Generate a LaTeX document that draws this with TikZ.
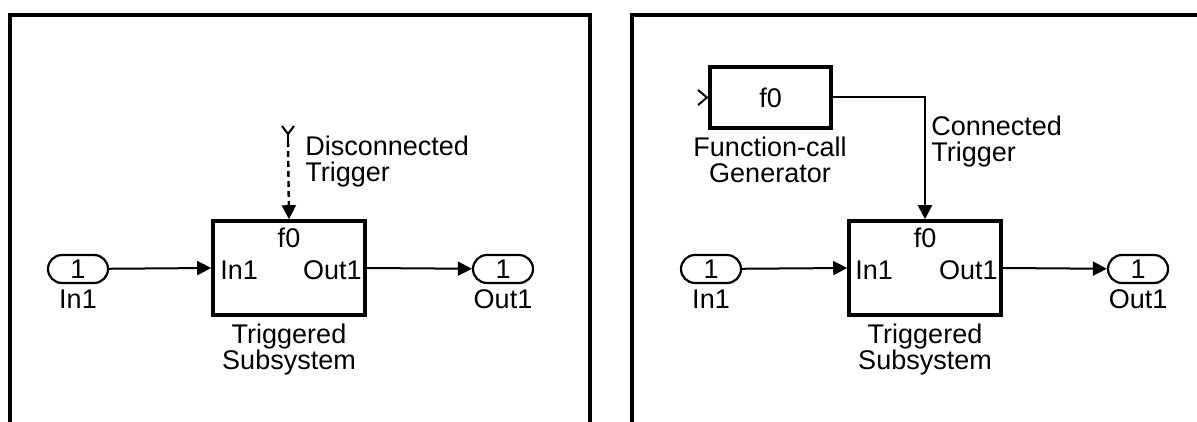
\documentclass[tikz,border=0pt]{standalone}
\usepackage{fontspec}
\setmainfont{Liberation Sans}
\usetikzlibrary{arrows.meta}
\begin{document}
\begin{tikzpicture}[x=0.5pt,y=-0.5pt,
  font=\fontsize{13.5}{13}\selectfont,
  port/.style={draw, line width=1.1pt, rounded corners=7pt, minimum width=30pt, minimum height=14pt, inner sep=0pt},
  blk/.style={draw, line width=1.8pt, inner sep=0pt},
  wire/.style={line width=1pt, -{Triangle[length=7pt,width=7pt]}},
  plain/.style={line width=1pt},
  panel/.style={line width=2.2pt},
  lbl/.style={inner sep=0pt, align=center}]
\useasboundingbox (0,0) rectangle (1197,422);
% ---------- left panel ----------
\draw[panel] (10,430) -- (10,15) -- (590,15) -- (590,430);
\node[port] (in1L) at (78,269) {1};
\node[lbl] (in1Llab) at (78,299) {In1};
\node[port] (out1L) at (503,269) {1};
\node[lbl] (out1Llab) at (503,299) {Out1};
\node[blk, minimum width=76pt, minimum height=47pt] (subL) at (289,268) {};
\node[lbl] (subLf0) at (289,238) {f0};
\node[lbl, anchor=west] (subLin) at (220,270) {In1};
\node[lbl, anchor=east] (subLout) at (362,270) {Out1};
\node[lbl] (subLlab) at (289,350) {Triggered\\Subsystem};
\coordinate (trigL) at (288,141);
\draw[plain] (282,126) -- (trigL |- 0,134) -- (294,126);
\draw[plain] (trigL |- 0,134) -- (trigL);
\draw[wire, line width=1.2pt, dash pattern=on 3pt off 2pt] (trigL) -- (subL.north);
\node[lbl, anchor=west, align=left] (discL) at (305,162) {Disconnected\\Trigger};
\draw[wire] (in1L) -- (subL.west);
\draw[wire] (subL.east) -- (out1L);
% ---------- right panel ----------
\draw[panel] (632,430) -- (632,15) -- (1205,15);
\node[blk, minimum width=60.5pt, minimum height=30.5pt] (fcg) at (770.5,97.5) {f0};
\draw[plain] (698,90) -- (707,97.5) -- (698,105);
\node[lbl] (fcglab) at (770,160) {Function-call\\Generator};
\node[port] (in1R) at (711,269) {1};
\node[lbl] (in1Rlab) at (711,299) {In1};
\node[port] (out1R) at (1138,269) {1};
\node[lbl] (out1Rlab) at (1138,299) {Out1};
\node[blk, minimum width=76pt, minimum height=47pt] (subR) at (925,268) {};
\node[lbl] (subRf0) at (925,238) {f0};
\node[lbl, anchor=west] (subRin) at (855,270) {In1};
\node[lbl, anchor=east] (subRout) at (998,270) {Out1};
\node[lbl] (subRlab) at (925,350) {Triggered\\Subsystem};
\draw[wire] (fcg.east) -| (subR.north);
\node[lbl, anchor=west, align=left] (connR) at (931,142) {Connected\\Trigger};
\draw[wire] (in1R) -- (subR.west);
\draw[wire] (subR.east) -- (out1R);
\end{tikzpicture}
\end{document}
